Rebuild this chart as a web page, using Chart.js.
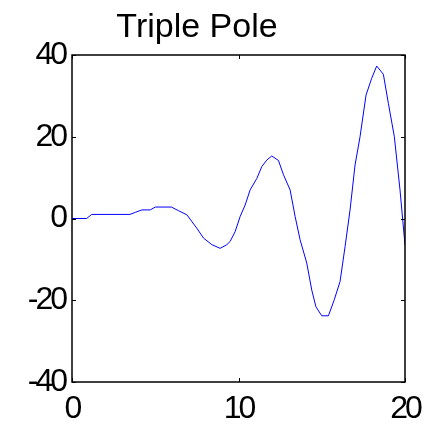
<!DOCTYPE html>
<html>
<head>
<meta charset="utf-8">
<script src="https://cdn.jsdelivr.net/npm/chart.js@4"></script>
<style>
  html, body { margin: 0; padding: 0; background: #fff; }
  #c { display: block; }
</style>
</head>
<body>
<canvas id="c" width="439" height="425"></canvas>
<script>
// chart values
var titleText = "Triple Pole";
var xValues = [0, 0.88, 1.18, 3.48, 3.8, 4.2, 4.7, 5.0, 5.97, 6.4, 6.9, 7.5, 7.9, 8.4, 8.9, 9.3,
  9.5, 9.8, 10.1, 10.4, 10.7, 11.1, 11.4, 11.7, 12.0, 12.4, 12.7, 13.1, 13.4, 13.7, 14.1, 14.4,
  14.65, 15.0, 15.4, 15.75, 16.1, 16.4, 16.7, 17.0, 17.3, 17.66, 18.0, 18.3, 18.7, 19.0, 19.36, 19.7, 20];
var yValues = [0, 0, 1, 1, 1.5, 2.1, 2.1, 2.8, 2.8, 1.9, 0.9, -2.4, -4.8, -6.4, -7.3, -6.4,
  -5.6, -3.2, 0.5, 3.3, 7, 9.8, 12.7, 14.3, 15.3, 14.2, 10.7, 7, 0.5, -5.2, -10.9, -17.5,
  -21.6, -23.8, -23.8, -19.9, -15.4, -6.9, 2.1, 13.1, 20, 30.2, 34.3, 37.3, 35.3, 28.2, 20, 7, -6.5];
var xTicks = [0, 10, 20];
var yTicks = [-40, -20, 0, 20, 40];

var points = xValues.map((x, i) => ({ x: x, y: yValues[i] }));
var tickFont = { family: "Liberation Sans, Arial, sans-serif", size: 32 };

// tighter digits, like the original
var spacingPlugin = {
  id: "spacing",
  beforeDraw: (chart) => {
    chart.ctx.letterSpacing = "-3px";
  },
};

// box round the plot, ticks pointing inwards, and the title
var framePlugin = {
  id: "frame",
  afterDraw: (chart) => {
    let ctx = chart.ctx;
    let a = chart.chartArea;
    let xs = chart.scales.x;
    let ys = chart.scales.y;
    ctx.save();
    ctx.strokeStyle = "#000";
    ctx.lineWidth = 1;
    ctx.beginPath();
    xTicks.forEach((t) => {
      let px = Math.round(xs.getPixelForValue(t)) + 0.5;
      ctx.moveTo(px, a.bottom);
      ctx.lineTo(px, a.bottom - 4);
      ctx.moveTo(px, a.top);
      ctx.lineTo(px, a.top + 4);
    });
    yTicks.forEach((t) => {
      let py = Math.round(ys.getPixelForValue(t)) + 0.5;
      ctx.moveTo(a.left, py);
      ctx.lineTo(a.left + 4, py);
      ctx.moveTo(a.right, py);
      ctx.lineTo(a.right - 4, py);
    });
    ctx.stroke();
    ctx.lineWidth = 1.5;
    ctx.strokeRect(a.left, a.top, a.right - a.left, a.bottom - a.top);
    ctx.letterSpacing = "0px";
    ctx.fillStyle = "#000";
    ctx.font = "34px Liberation Sans, Arial, sans-serif";
    ctx.textAlign = "center";
    ctx.textBaseline = "alphabetic";
    ctx.fillText(titleText, 197, 37);
    ctx.restore();
  },
};

new Chart(document.getElementById("c"), {
  type: "line",
  data: {
    datasets: [
      {
        data: points,
        borderColor: "#0000ff",
        borderWidth: 1,
        pointRadius: 0,
        tension: 0,
        fill: false,
      },
    ],
  },
  options: {
    responsive: false,
    animation: false,
    layout: { padding: { left: 0, right: 34, top: 55, bottom: 0 } },
    plugins: {
      legend: { display: false },
      title: { display: false },
      tooltip: { enabled: false },
    },
    scales: {
      x: {
        type: "linear",
        min: 0,
        max: 20,
        afterBuildTicks: (s) => { s.ticks = xTicks.map((v) => ({ value: v })); },
        afterFit: (s) => { s.height = 43; },
        grid: { display: false, drawTicks: false },
        border: { display: false },
        ticks: { font: tickFont, color: "#000", padding: 8, maxRotation: 0 },
      },
      y: {
        min: -40,
        max: 40,
        afterBuildTicks: (s) => { s.ticks = yTicks.map((v) => ({ value: v })); },
        afterFit: (s) => { s.width = 72; },
        grid: { display: false, drawTicks: false },
        border: { display: false },
        ticks: { font: tickFont, color: "#000", padding: 7 },
      },
    },
  },
  plugins: [spacingPlugin, framePlugin],
});
</script>
</body>
</html>
